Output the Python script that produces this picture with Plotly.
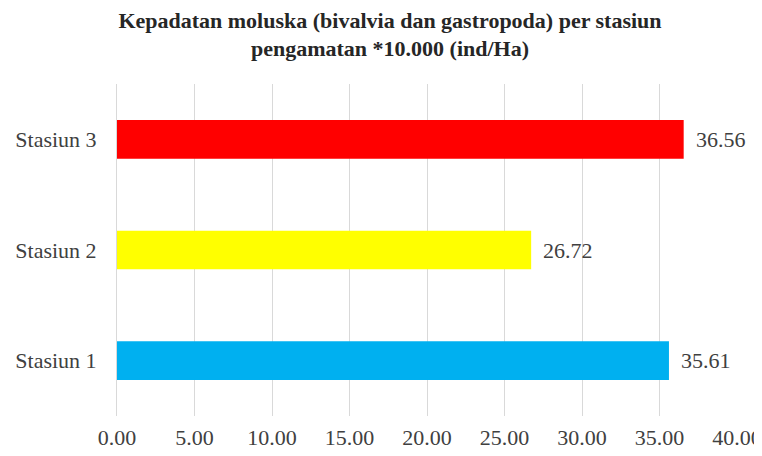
import plotly.graph_objects as go

categories = ["Stasiun 1", "Stasiun 2", "Stasiun 3"]
values = [35.61, 26.72, 36.56]
colors = ["#00B0F0", "#FFFF00", "#FF0000"]
tick_vals = [0, 5, 10, 15, 20, 25, 30, 35, 40]
tick_text = ["0.00", "5.00", "10.00", "15.00", "20.00", "25.00", "30.00", "35.00", "40.00"]
title = "<b>Kepadatan moluska (bivalvia dan gastropoda) per stasiun<br>pengamatan *10.000 (ind/Ha)</b>"

font_family = "Liberation Serif"
fsize = 22

fig = go.Figure(go.Bar(
    y=categories,
    x=values,
    orientation="h",
    marker=dict(color=colors, line=dict(width=0)),
    width=0.35,
    cliponaxis=False,
))

for c, v in zip(categories, values):
    fig.add_annotation(
        x=v, y=c, xref="x", yref="y",
        text=f"{v:.2f}",
        showarrow=False,
        xanchor="left",
        yanchor="middle",
        xshift=10,
        font=dict(family=font_family, size=fsize, color="#404040"),
    )

fig.update_layout(
    width=762,
    height=456,
    paper_bgcolor="white",
    plot_bgcolor="white",
    margin=dict(l=109, r=33, t=76, b=48),
    title=dict(
        text=title,
        x=0.5013,
        xref="container",
        xanchor="center",
        y=0.957,
        yref="container",
        yanchor="top",
        font=dict(family=font_family, size=22, color="#262626"),
    ),
    showlegend=False,
)

fig.update_xaxes(
    range=[0, 40],
    tickvals=tick_vals,
    ticktext=tick_text,
    showgrid=True,
    gridcolor="#D9D9D9",
    gridwidth=1,
    zeroline=False,
    showline=False,
    ticks="",
    automargin=False,
    ticklabelstandoff=6,
    tickfont=dict(family=font_family, size=fsize, color="#404040"),
)

fig.update_yaxes(
    showgrid=False,
    zeroline=False,
    showline=True,
    linecolor="#D9D9D9",
    linewidth=1,
    ticks="",
    automargin=False,
    ticklabelstandoff=15,
    tickfont=dict(family=font_family, size=fsize, color="#404040"),
)

fig.write_html("out.html")
